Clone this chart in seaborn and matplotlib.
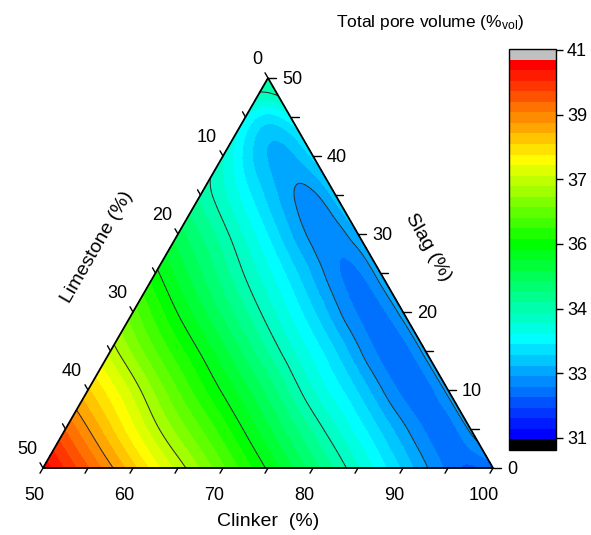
import numpy as np
import matplotlib
matplotlib.use("Agg")
import matplotlib.pyplot as plt
import matplotlib.tri as mtri
from matplotlib.colors import LinearSegmentedColormap
import seaborn as sns

# ---------------- data ----------------
# Limestone (%) sampling positions along each constant-slag row (descending)
limestone_pos = [50, 45, 40, 35, 30, 25, 20, 15, 10, 5, 2.5, 0]
# Total pore volume (%vol) along rows of constant slag content
pv_slag00 = [40.50, 39.55, 38.55, 37.56, 36.64, 35.75, 34.86, 33.97, 33.07, 32.25, 32.00, 32.15]
pv_slag05 = [39.50, 38.51, 37.48, 36.61, 35.75, 34.86, 33.97, 33.10, 32.30, 32.20, 32.68]
pv_slag10 = [38.50, 37.57, 36.59, 35.75, 34.90, 33.94, 33.10, 32.25, 32.20, 32.72]
pv_slag15 = [37.55, 36.60, 35.77, 34.90, 34.00, 33.13, 32.25, 32.20, 32.74]
pv_slag20 = [36.70, 35.78, 34.93, 34.06, 33.17, 32.30, 32.25, 32.76]
pv_slag25 = [35.87, 35.02, 34.16, 33.28, 32.40, 32.30, 32.80]
pv_slag30 = [35.12, 34.31, 33.38, 32.50, 32.45, 32.85]
pv_slag35 = [34.40, 33.52, 32.65, 32.55, 33.00]
pv_slag40 = [33.95, 32.85, 32.80, 33.20]
pv_slag45 = [33.70, 33.30, 33.60]
pv_slag475 = [34.05, 34.15]
pv_slag50 = [34.40]
slag_rows = [0, 5, 10, 15, 20, 25, 30, 35, 40, 45, 47.5, 50]
pv_rows = [pv_slag00, pv_slag05, pv_slag10, pv_slag15, pv_slag20, pv_slag25,
           pv_slag30, pv_slag35, pv_slag40, pv_slag45, pv_slag475, pv_slag50]

# contour-line levels and colour scale
line_levels = [32.6, 34.2, 35.8, 37.4, 39.0]
scale_min, scale_max, n_bands = 31.0, 40.6, 36
cbar_labels = ["31", "33", "34", "36", "37", "39", "41"]
clinker_ticks = [50, 60, 70, 80, 90, 100]
limestone_ticks = [0, 10, 20, 30, 40, 50]
slag_ticks = [0, 10, 20, 30, 40, 50]

# ---------------- style ----------------
sns.set_style("white")
plt.rcParams["font.family"] = ["Liberation Sans", "DejaVu Sans"]
plt.rcParams["mathtext.fontset"] = "custom"
plt.rcParams["mathtext.rm"] = "Liberation Sans"
plt.rcParams["mathtext.it"] = "Liberation Sans:italic"
plt.rcParams["text.color"] = "black"
plt.rcParams["xtick.color"] = "black"
plt.rcParams["ytick.color"] = "black"

W, H = 591, 535
fig = plt.figure(figsize=(W / 100, H / 100), dpi=100)
H3 = np.sqrt(3) / 2


def fx(px):
    return px / W


def fy(py):
    return 1 - py / H


def tern(clinker, limestone, slag):
    """ternary (clinker 50-100, limestone 0-50, slag 0-50) -> cartesian"""
    c = np.asarray(clinker, float)
    s = np.asarray(slag, float)
    x = (c - 50) / 50 + 0.5 * s / 50
    y = H3 * s / 50
    return x, y


# assemble points
L_all, S_all, Z_all = [], [], []
for s, row in zip(slag_rows, pv_rows):
    Ls = [l for l in limestone_pos if l <= 50 - s + 1e-9]
    for l, z in zip(Ls, row):
        L_all.append(l)
        S_all.append(s)
        Z_all.append(z)
L_all = np.array(L_all)
S_all = np.array(S_all)
Z_all = np.array(Z_all)
C_all = 100 - L_all - S_all
X, Y = tern(C_all, L_all, S_all)

tri = mtri.Triangulation(X, Y)
refiner = mtri.UniformTriRefiner(tri)
interp = mtri.CubicTriInterpolator(tri, Z_all, kind="min_E")
tri_f, z_f = refiner.refine_field(Z_all, triinterpolator=interp, subdiv=4)

# colour bands: black under, 36 rainbow bands, grey over
rainbow = LinearSegmentedColormap.from_list(
    "origin_rainbow",
    [(0.0, "#0000ff"), (9 / 35, "#00ffff"), (18 / 35, "#00ff00"),
     (26 / 35, "#ffff00"), (1.0, "#ff0000")])
pal = sns.color_palette([rainbow(i / (n_bands - 1)) for i in range(n_bands)])
step = (scale_max - scale_min) / n_bands
levels = scale_min + step * np.arange(-1, n_bands + 2)
colors = ["#000000"] + list(pal) + ["#c0c0c0"]

ax = fig.add_axes([fx(43), fy(468), fx(450), 390 / H])
ax.set_xlim(0, 1)
ax.set_ylim(0, H3)
ax.axis("off")

cf = ax.tricontourf(tri_f, z_f, levels=levels, colors=colors, antialiased=False)
ax.tricontour(tri_f, z_f, levels=line_levels, colors="#303030", linewidths=0.75)
ax.plot([0, 1, 0.5, 0], [0, 0, H3, 0], color="black", lw=1.3, clip_on=False,
        solid_joinstyle="miter")

# ---------------- ternary ticks ----------------
u = 1 / 450  # one pixel in data units
tk = dict(color="black", lw=1.0, clip_on=False)
lab = dict(fontsize=13, clip_on=False, textcoords="offset points", color="black")

# clinker (bottom)
for c in np.arange(50, 101, 5):
    x0, y0 = tern(c, 100 - c, 0)
    d = 6 * u
    ax.plot([x0, x0 - 0.5 * d], [y0, y0 - H3 * d], **tk)
for c in clinker_ticks:
    x0, y0 = tern(c, 100 - c, 0)
    ax.annotate(str(c), (x0, y0), xytext=(-9 * 0.72, -25 * 0.72), ha="center",
                va="center_baseline", **lab)

# limestone (left)
for l in np.arange(0, 51, 5):
    x0, y0 = tern(50, l, 50 - l)
    d = 6 * u
    ax.plot([x0, x0 - 0.5 * d], [y0, y0 + H3 * d], **tk)
for l in limestone_ticks:
    x0, y0 = tern(50, l, 50 - l)
    ax.annotate(str(l), (x0, y0), xytext=(-6 * 0.72, 20 * 0.72), ha="right",
                va="center_baseline", **lab)

# slag (right)
for s in np.arange(0, 51, 5):
    x0, y0 = tern(100 - s, 0, s)
    d = 8 * u
    ax.plot([x0, x0 + d], [y0, y0], **tk)
for s in slag_ticks:
    x0, y0 = tern(100 - s, 0, s)
    ax.annotate(str(s), (x0, y0), xytext=(14 * 0.72, 0), ha="left",
                va="center_baseline", **lab)

# axis titles
fig.text(fx(268), fy(522), "Clinker  (%)", fontsize=14, ha="center", va="center")
fig.text(fx(97), fy(247), "Limestone (%)", fontsize=14, ha="center", va="center",
         rotation=60, rotation_mode="anchor")
fig.text(fx(428), fy(247), "Slag (%)", fontsize=14, ha="center", va="center",
         rotation=-60, rotation_mode="anchor")

# ---------------- colour bar ----------------
cax = fig.add_axes([fx(509), fy(450), 47 / W, 401 / H])
cb = fig.colorbar(cf, cax=cax)
vlo, vhi = levels[0], levels[-1]
pix2val = lambda py: vlo + (450 - py) / 401 * (vhi - vlo)
tick_vals = np.linspace(pix2val(438), pix2val(50), len(cbar_labels))
cb.set_ticks(tick_vals)
cb.set_ticklabels(cbar_labels)
cb.ax.tick_params(labelsize=13, length=5, width=1, direction="out", right=True,
                  left=False, pad=3, color="black", labelcolor="black")
cb.outline.set_edgecolor("black")
cb.outline.set_linewidth(1.0)
for s in cb.ax.collections:
    s.set_antialiased(False)

fig.text(fx(430), fy(22), "Total pore volume (%$_{\\mathrm{vol}}$)", fontsize=12.5,
         ha="center", va="center")

fig.savefig("out.png", dpi=100)
